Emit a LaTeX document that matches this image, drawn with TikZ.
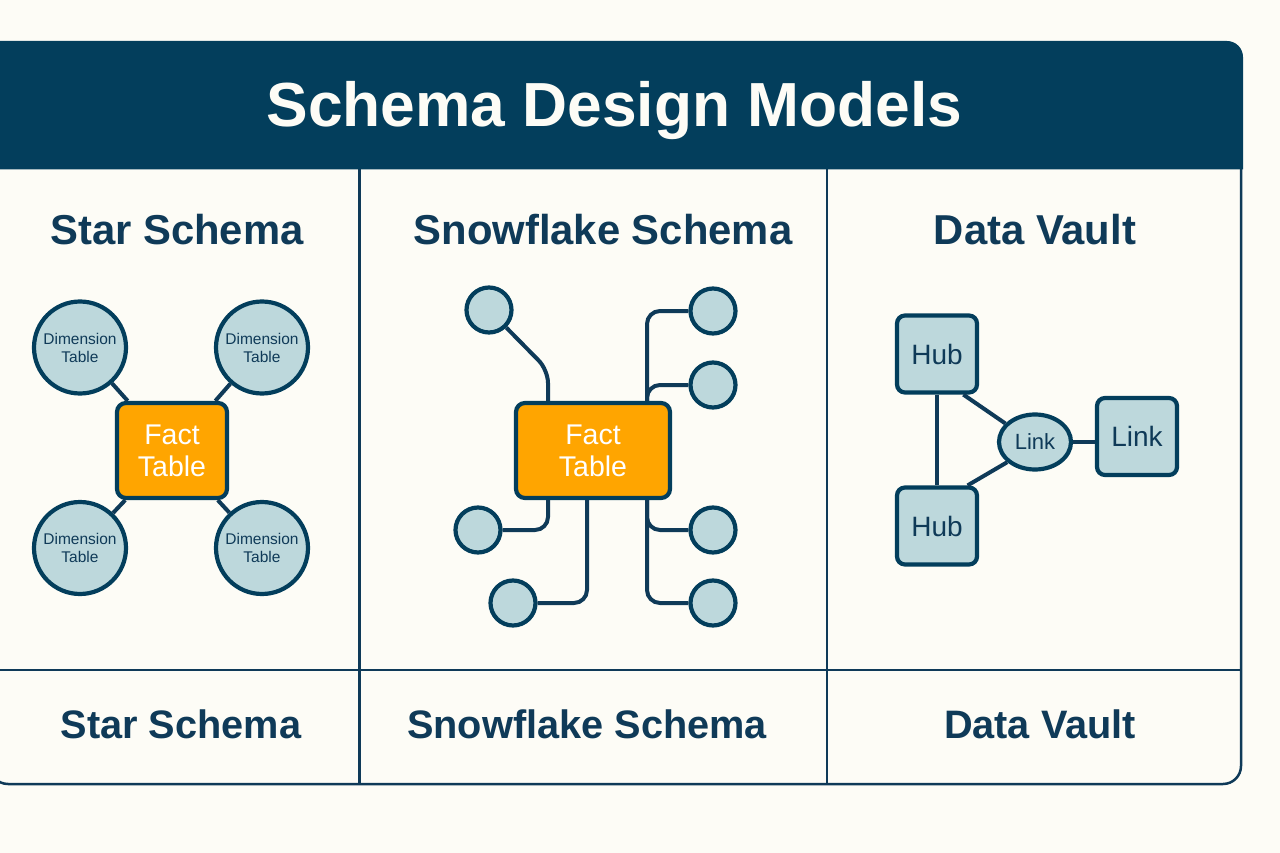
\documentclass[tikz,border=0pt]{standalone}
\usepackage{fontspec}
\setmainfont{Liberation Sans}
\usetikzlibrary{positioning, shapes.geometric}
\definecolor{paper}{HTML}{FDFCF6}
\definecolor{navy}{HTML}{033E5C}
\definecolor{frame_line}{HTML}{0F3A58}
\definecolor{pale_blue}{HTML}{BDD8DC}
\definecolor{fact_orange}{HTML}{FFA500}

\begin{document}
\begin{tikzpicture}
    [
        x=1pt, y=-1pt, on grid, align=center,
        frame_line_style/.style={draw=frame_line, line width=2.5pt},
        link_line/.style={draw=frame_line, line width=4pt, rounded corners=13pt},
        dimension_node/.style={circle, draw=navy, fill=pale_blue, line width=4.2pt, inner sep=0pt, minimum size=92pt, text=frame_line, font=\fontsize{15.5}{18}\selectfont, execute at begin node=\vspace*{1.5pt}},
        leaf_node/.style={circle, draw=navy, fill=pale_blue, line width=4.2pt, inner sep=0pt, minimum size=45pt},
        fact_node/.style={rectangle, rounded corners=9pt, draw=navy, fill=fact_orange, line width=4.2pt, inner sep=0pt, minimum height=95pt, text=white, font=\fontsize{28.5}{32}\selectfont, execute at begin node=\vspace*{5pt}},
        hub_node/.style={rectangle, rounded corners=8pt, draw=navy, fill=pale_blue, line width=4.2pt, inner sep=0pt, minimum width=80pt, minimum height=77pt, text=frame_line, font=\fontsize{28}{31}\selectfont},
        link_node/.style={ellipse, draw=navy, fill=pale_blue, line width=4.2pt, inner sep=0pt, minimum width=72pt, minimum height=55pt, text=frame_line, font=\fontsize{22}{26}\selectfont},
        head_text/.style={anchor=base, text=frame_line, font=\fontsize{41.8}{46}\selectfont\bfseries},
        foot_text/.style={anchor=base, text=frame_line, font=\fontsize{39.7}{44}\selectfont\bfseries},
    ]
        \useasboundingbox (0,0) rectangle (1280,853);
        \clip (0,0) rectangle (1280,853);
        \fill[paper] (0,0) rectangle (1280,853);
        % frame
        \draw[frame_line_style, rounded corners=18pt] (-10,740) -- (-10,784) -- (1241,784) -- (1241,169);
        \draw[frame_line_style] (0,670) -- (1241,670);
        \draw[frame_line_style] (359.5,169) -- (359.5,784);
        \draw[frame_line_style] (827,169) -- (827,784);
        \fill[navy] (-30,169.5) -- (-30,41) [rounded corners=16pt] -- (1243,41) [sharp corners] -- (1243,169.5) -- cycle;
        \node[anchor=base, text=paper, font=\fontsize{62.3}{68}\selectfont\bfseries] (title) at (614.5,127) {Schema Design Models};
        % column heads
        \node[head_text] (star_head) at (177,244) {Star Schema};
        \node[head_text] (snow_head) at (603,244) {Snowflake Schema};
        \node[head_text] (vault_head) at (1035,244) {Data Vault};
        \node[foot_text] (star_foot) at (181,738.5) {Star Schema};
        \node[foot_text] (snow_foot) at (587,738.5) {Snowflake Schema};
        \node[foot_text] (vault_foot) at (1040,738.5) {Data Vault};
        % star
        \node[fact_node, minimum width=110pt] (star_fact) at (172,450.5) {Fact\\Table};
        \node[dimension_node] (dim_nw) at (80,347.5) {Dimension\\Table};
        \node[dimension_node] (dim_ne) [right = 182pt of dim_nw] {Dimension\\Table};
        \node[dimension_node] (dim_sw) [below = 200.5pt of dim_nw] {Dimension\\Table};
        \node[dimension_node] (dim_se) [right = 182pt of dim_sw] {Dimension\\Table};
        \draw[link_line] (dim_nw) -- (star_fact);
        \draw[link_line] (dim_ne) -- (star_fact);
        \draw[link_line] (dim_sw) -- (star_fact);
        \draw[link_line] (dim_se) -- (star_fact);
        % snowflake
        \node[fact_node, minimum width=154pt] (snow_fact) at (593,450.5) {Fact\\Table};
        \coordinate (bend_left) at (548,450);
        \coordinate (bend_mid) at (587,450);
        \coordinate (bend_right) at (647,450);
        \coordinate (bend_top) at (548,370);
        \node[leaf_node] (leaf_a) at (489,310) {};
        \node[leaf_node] (leaf_b) at (713,311) {};
        \node[leaf_node] (leaf_c) [below = 74pt of leaf_b] {};
        \node[leaf_node] (leaf_d) [below = 145pt of leaf_c] {};
        \node[leaf_node] (leaf_e) [below = 73pt of leaf_d] {};
        \node[leaf_node] (leaf_f) at (478,530) {};
        \node[leaf_node] (leaf_g) at (513,603) {};
        \draw[link_line] (leaf_a) -- (bend_top) -- (snow_fact.north -| bend_top);
        \draw[link_line] (snow_fact.north -| bend_right) |- (leaf_b);
        \draw[link_line] (snow_fact.north -| bend_right) |- (leaf_c);
        \draw[link_line] (snow_fact.south -| bend_right) |- (leaf_d);
        \draw[link_line] (snow_fact.south -| bend_right) |- (leaf_e);
        \draw[link_line] (snow_fact.south -| bend_left) |- (leaf_f);
        \draw[link_line] (snow_fact.south -| bend_mid) |- (leaf_g);
        % data vault
        \node[hub_node] (hub_top) at (937,354) {Hub};
        \node[hub_node] (hub_bottom) [below = 172pt of hub_top] {Hub};
        \node[link_node] (link_oval) at (1035,442) {Link};
        \node[hub_node] (link_box) at (1137,436.5) {Link};
        \draw[link_line] (hub_top) -- (hub_bottom);
        \draw[link_line] (hub_top.-57) -- (link_oval.148);
        \draw[link_line] (hub_bottom.53) -- (link_oval.216);
        \draw[link_line] (link_oval.east) -- (link_box.west |- link_oval.east);
    \end{tikzpicture}
\end{document}
